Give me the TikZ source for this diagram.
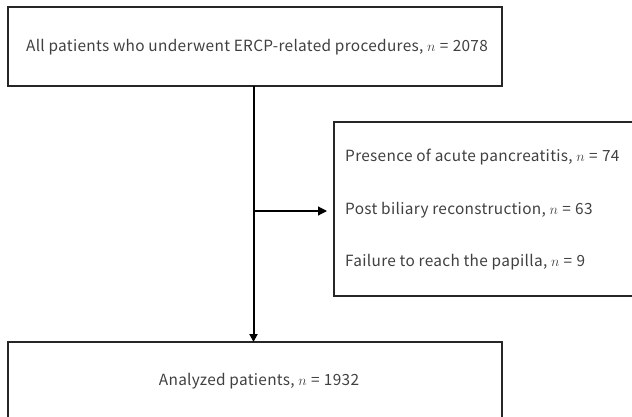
\documentclass[tikz,border=0pt]{standalone}
\usepackage{fontspec}
\setmainfont{Noto Sans CJK JP}[LetterSpace=2]
\usetikzlibrary{arrows.meta}
\newcommand{\nis}[1]{$n$\;=\;#1}
\begin{document}
\begin{tikzpicture}[x=1pt,y=-1pt,
  box/.style={draw=black!85,line width=1.1pt},
  txt/.style={font=\fontsize{15.4}{17}\selectfont,text=black!75,inner sep=0pt},
  conn/.style={line width=2pt,-{Triangle[length=8pt,width=8pt]}}]
\useasboundingbox (0,0) rectangle (632,416);
\clip (0,0) rectangle (632,416);
\draw[box] (8,7) rectangle (502,86);
\draw[box] (334,122) rectangle (700,296);
\draw[box] (8,342) rectangle (502,460);
\node[txt] (top) at (257,47) {All patients who underwent ERCP-related procedures, \nis{2078}};
\node[txt,anchor=west] (e1) at (345,157) {Presence of acute pancreatitis, \nis{74}};
\node[txt,anchor=west] (e2) at (345,210) {Post biliary reconstruction, \nis{63}};
\node[txt,anchor=west] (e3) at (345,262) {Failure to reach the papilla, \nis{9}};
\node[txt] (bot) at (259,381) {Analyzed patients, \nis{1932}};
\coordinate (a) at (253.5,86);
\coordinate (b) at (253.5,342);
\coordinate (j) at (253.5,211);
\coordinate (c) at (327,211);
\draw[conn] (a) -- (b);
\draw[line width=1.2pt,-{Triangle[length=9pt,width=9pt]}] (j) -- (c);
\end{tikzpicture}
\end{document}
